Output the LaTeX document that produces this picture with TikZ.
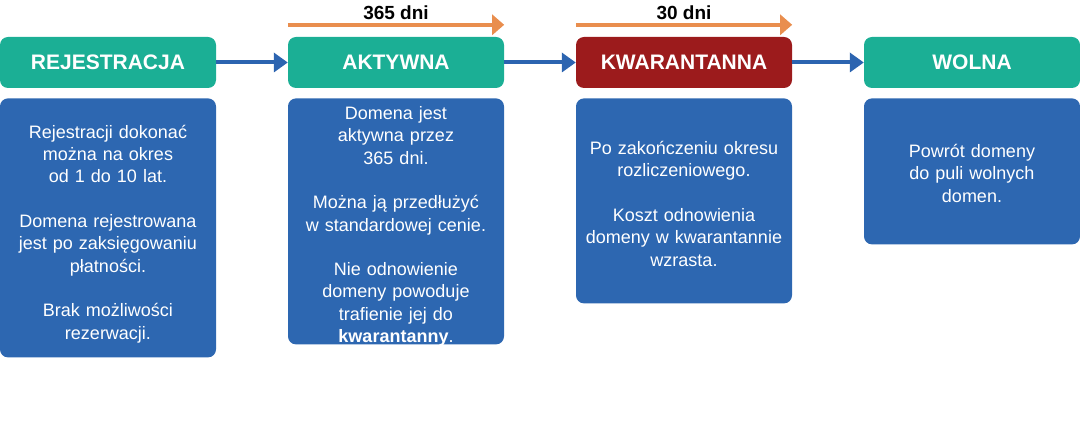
\documentclass[tikz,border=0pt]{standalone}
\usepackage{fontspec}
\setmainfont{Liberation Sans}
\usetikzlibrary{positioning, arrows.meta}

\definecolor{headteal}{HTML}{1BAF95}
\definecolor{quarred}{HTML}{9C1B1C}
\definecolor{bodyblue}{HTML}{2D67B1}
\definecolor{linkblue}{HTML}{2C64B0}
\definecolor{periodorange}{HTML}{E98E4E}

\tikzset{
	stage/.style = {fill=headteal, text=white, rounded corners=8pt,
		minimum width=216pt, minimum height=51pt, inner sep=0pt,
		font=\bfseries\fontsize{21}{25}\selectfont},
	infobox/.style = {fill=bodyblue, rounded corners=8pt,
		minimum width=216pt, inner sep=0pt},
	infotext/.style = {text=white, text width=206pt, inner sep=0pt,
		align=center, font=\fontsize{18}{22.3}\selectfont},
	link/.style = {draw=linkblue, line width=4pt,
		-{Triangle[length=14pt, width=19pt]}},
	period/.style = {draw=periodorange, line width=4pt,
		-{Triangle[length=12pt, width=20pt]}},
	period label/.style = {inner sep=0pt,
		font=\bfseries\fontsize{19}{22}\selectfont}
}

\begin{document}
\begin{tikzpicture}[x=1pt, y=1pt]
\useasboundingbox (0, 0) rectangle (1080, 442);

\node[stage] (reg) at (108, 379.5) {REJESTRACJA};
\node[stage] (akt) at (396, 379.5) {AKTYWNA};
\node[stage, fill=quarred] (kwa) at (684, 379.5) {KWARANTANNA};
\node[stage] (wol) at (972, 379.5) {WOLNA};

\node[infobox, minimum height=259pt, below=10pt of reg] (reginfo) {};
\node[infobox, minimum height=246pt, below=10pt of akt] (aktinfo) {};
\node[infobox, minimum height=205pt, below=10pt of kwa] (kwainfo) {};
\node[infobox, minimum height=146pt, below=10pt of wol] (wolinfo) {};

\node[infotext] (regtext) at ([yshift=-6pt]reginfo.center) {%
	Rejestracji dokonać\\ można na okres\\ od 1 do 10 lat.\\[22.3pt]
	Domena rejestrowana\\ jest po zaksięgowaniu\\ płatności.\\[22.3pt]
	Brak możliwości\\ rezerwacji.};
\node[infotext] (akttext) at ([yshift=-5pt]aktinfo.center) {%
	Domena jest\\ aktywna przez\\ 365 dni.\\[22.3pt]
	Można ją przedłużyć\\ w standardowej cenie.\\[22.3pt]
	Nie odnowienie\\ domeny powoduje\\ trafienie jej do\\
	\textbf{kwarantanny}.};
\node[infotext] (kwatext) at ([yshift=-3pt]kwainfo.center) {%
	Po zakończeniu okresu\\ rozliczeniowego.\\[22.3pt]
	Koszt odnowienia\\ domeny w kwarantannie\\ wzrasta.};
\node[infotext] (woltext) at ([yshift=-2pt]wolinfo.center) {%
	Powrót domeny\\ do puli wolnych\\ domen.};

\draw[link] (reg) -- (akt);
\draw[link] (akt) -- (kwa);
\draw[link] (kwa) -- (wol);

\draw[period] ([yshift=12pt]akt.north west) --
	node[above=3pt, period label] (d365) {365 dni}
	([yshift=12pt]akt.north east);
\draw[period] ([yshift=12pt]kwa.north west) --
	node[above=3pt, period label] (d30) {30 dni}
	([yshift=12pt]kwa.north east);
\end{tikzpicture}
\end{document}
